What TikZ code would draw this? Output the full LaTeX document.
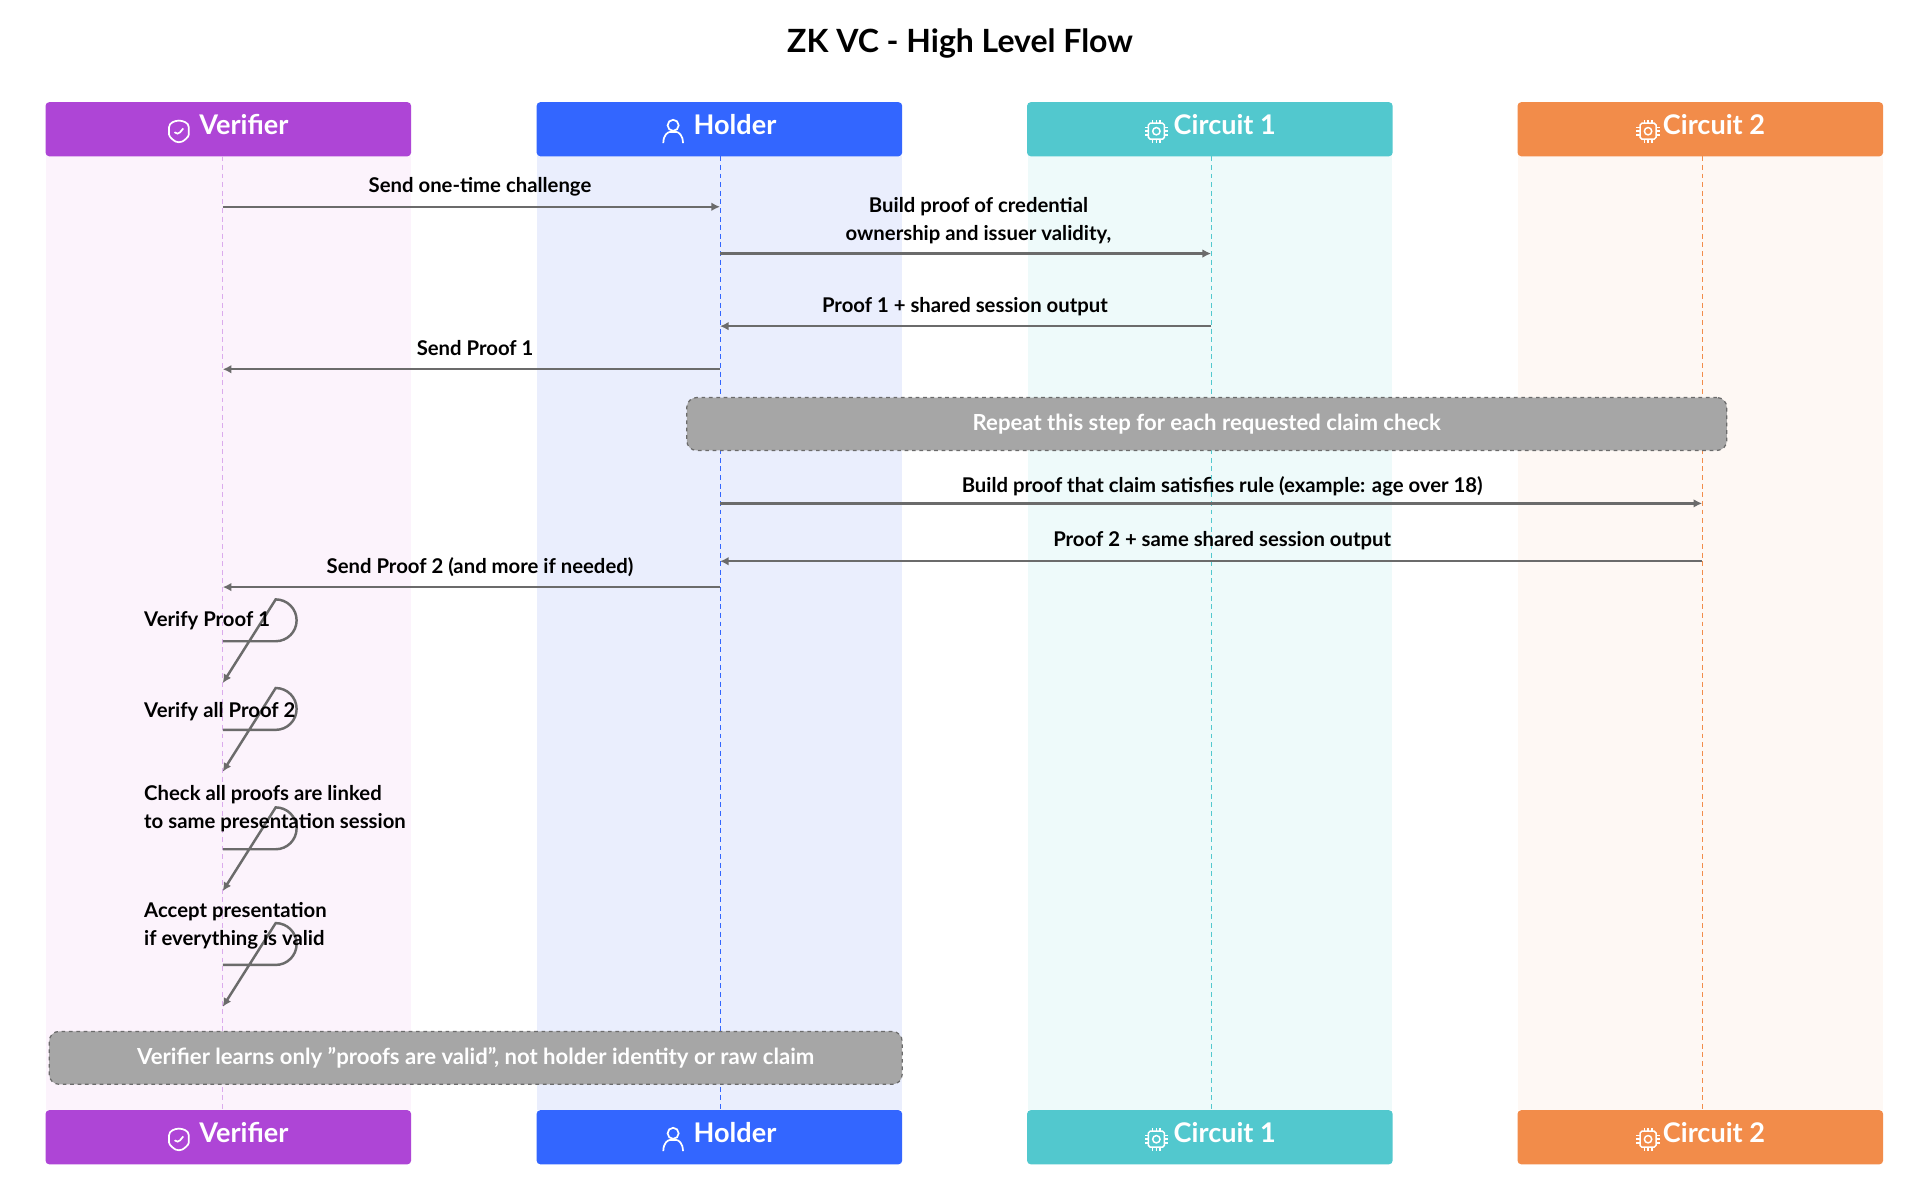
\documentclass[tikz,border=0pt]{standalone}
\usepackage{fontspec}
\setmainfont{Lato}
\usetikzlibrary{arrows.meta}
\begin{document}
\definecolor{cver}{HTML}{AE45D6}
\definecolor{chol}{HTML}{3366FF}
\definecolor{cc1}{HTML}{52C8CE}
\definecolor{cc2}{HTML}{F28C4A}
\definecolor{bver}{HTML}{FCF3FC}
\definecolor{bhol}{HTML}{EAEEFD}
\definecolor{bc1}{HTML}{EEFAFA}
\definecolor{bc2}{HTML}{FEF8F4}
\definecolor{msg}{HTML}{6B6B6B}
\definecolor{notegray}{HTML}{A6A6A6}
\newcommand{\icshield}{\tikz[baseline=-3pt,x=1pt,y=1pt,line width=1.4pt,white]{\draw (0,9) -- (8,6) -- (8,0) .. controls (8,-5) and (4,-8) .. (0,-10) .. controls (-4,-8) and (-8,-5) .. (-8,0) -- (-8,6) -- cycle; \draw (-3.5,-1) -- (-1,-3.5) -- (3.5,2);}}
\newcommand{\icperson}{\tikz[baseline=-3pt,x=1pt,y=1pt,line width=1.4pt,white]{\draw (0,4.5) circle (4.5); \draw (-8,-10) .. controls (-8,-3) and (-4,-1) .. (0,-1) .. controls (4,-1) and (8,-3) .. (8,-10);}}
\newcommand{\icchip}{\tikz[baseline=-3pt,x=1pt,y=1pt,line width=1.2pt,white]{\draw[rounded corners=1.5pt] (-6.5,-6.5) rectangle (6.5,6.5); \draw (-3,-3) rectangle (3,3); \foreach \t in {-3,0,3}{\draw (\t,6.5)--(\t,9.5); \draw (\t,-6.5)--(\t,-9.5); \draw (6.5,\t)--(9.5,\t); \draw (-6.5,\t)--(-9.5,\t);}}}
\begin{tikzpicture}[x=1pt,y=-1pt,
  head/.style={rounded corners=3pt, minimum width=297pt, minimum height=44pt, inner sep=0pt, text=white, font=\fontsize{22}{26}\selectfont\bfseries},
  life/.style={line width=0.8pt, dash pattern=on 4pt off 3pt},
  msgarrow/.style={draw=msg, line width=2pt, -{Latex[length=7pt,width=7pt]}},
  lbl/.style={font=\fontsize{16.5}{23}\selectfont\bfseries, align=center, inner sep=1pt},
  note/.style={draw=msg, fill=notegray, rounded corners=8pt, dashed, line width=1pt, text=white, font=\fontsize{18}{22}\selectfont\bfseries, inner sep=0pt}]
\useasboundingbox (0,0) rectangle (1560,975);
\fill[white] (0,0) rectangle (1560,975);
\node[font=\fontsize{26}{30}\selectfont\bfseries] (title) at (780,35) {ZK VC - High Level Flow};
% lanes
\fill[bver] (37,127) rectangle (334,902);
\fill[bhol] (436,127) rectangle (733,902);
\fill[bc1] (835,127) rectangle (1131,902);
\fill[bc2] (1233,127) rectangle (1530,902);
% headers
\node[head, fill=cver] (vt) at (185.5,105) {\icshield\hspace{8pt}Verifier};
\node[head, fill=chol] (ht) at (584.5,105) {\icperson\hspace{8pt}Holder};
\node[head, fill=cc1] (c1t) at (983,105) {\icchip\hspace{4pt}Circuit 1};
\node[head, fill=cc2] (c2t) at (1381.5,105) {\icchip\hspace{2pt}Circuit 2};
\node[head, fill=cver] (vb) at (185.5,924) {\icshield\hspace{8pt}Verifier};
\node[head, fill=chol] (hb) at (584.5,924) {\icperson\hspace{8pt}Holder};
\node[head, fill=cc1] (c1b) at (983,924) {\icchip\hspace{4pt}Circuit 1};
\node[head, fill=cc2] (c2b) at (1381.5,924) {\icchip\hspace{2pt}Circuit 2};
% lifelines
\coordinate (vT) at (181,127); \coordinate (vB) at (181,902);
\coordinate (hT) at (585,127); \coordinate (hB) at (585,902);
\coordinate (aT) at (984,127); \coordinate (aB) at (984,902);
\coordinate (bT) at (1383,127); \coordinate (bB) at (1383,902);
\draw[life, draw=cver!45] (vT) -- (vB);
\draw[life, draw=chol] (hT) -- (hB);
\draw[life, draw=cc1] (aT) -- (aB);
\draw[life, draw=cc2] (bT) -- (bB);
% messages
\coordinate (v1) at (181,168); \coordinate (h1) at (585,168);
\draw[msgarrow] (v1) -- (h1);
\node[lbl] (l1) at (390,152) {Send one-time challenge};
\coordinate (h2) at (585,206); \coordinate (a2) at (984,206);
\draw[msgarrow] (h2) -- (a2);
\node[lbl] (l2) at (795,179) {Build proof of credential\\ownership and issuer validity,};
\coordinate (a3) at (984,265); \coordinate (h3) at (585,265);
\draw[msgarrow] (a3) -- (h3);
\node[lbl] (l3) at (784,249) {Proof 1 + shared session output};
\coordinate (h4) at (585,300); \coordinate (v4) at (181,300);
\draw[msgarrow] (h4) -- (v4);
\node[lbl] (l4) at (386,283) {Send Proof 1};
\node[note, minimum width=845pt, minimum height=43pt] (n1) at (980.5,344.5) {Repeat this step for each requested claim check};
\coordinate (h6) at (585,409); \coordinate (b6) at (1383,409);
\draw[msgarrow] (h6) -- (b6);
\node[lbl] (l6) at (993,395) {Build proof that claim satisfies rule (example: age over 18)};
\coordinate (b7) at (1383,456); \coordinate (h7) at (585,456);
\draw[msgarrow] (b7) -- (h7);
\node[lbl] (l7) at (993,439) {Proof 2 + same shared session output};
\coordinate (h8) at (585,477); \coordinate (v8) at (181,477);
\draw[msgarrow] (h8) -- (v8);
\node[lbl] (l8) at (390,461) {Send Proof 2 (and more if needed)};
% self loops
\foreach \ya/\yb/\nm in {521/555/s1, 593/627/s2, 690/724/s3, 784/818/s4}{
  \coordinate (\nm a) at (181,\ya); \coordinate (\nm b) at (181,\yb);
  \draw[msgarrow] (\nm a) -- (224,\ya) arc[start angle=90, end angle=-90, radius=17] -- (\nm b);
}
\node[lbl, anchor=west, align=left] (sl1) at (116,504) {Verify Proof 1};
\node[lbl, anchor=west, align=left] (sl2) at (116,578) {Verify all Proof 2};
\node[lbl, anchor=west, align=left] (sl3) at (116,657) {Check all proofs are linked\\to same presentation session};
\node[lbl, anchor=west, align=left] (sl4) at (116,752) {Accept presentation\\if everything is valid};
\node[note, minimum width=693pt, minimum height=43pt] (n2) at (386.5,859.5) {Verifier learns only "proofs are valid", not holder identity or raw claim};
\end{tikzpicture}
\end{document}
